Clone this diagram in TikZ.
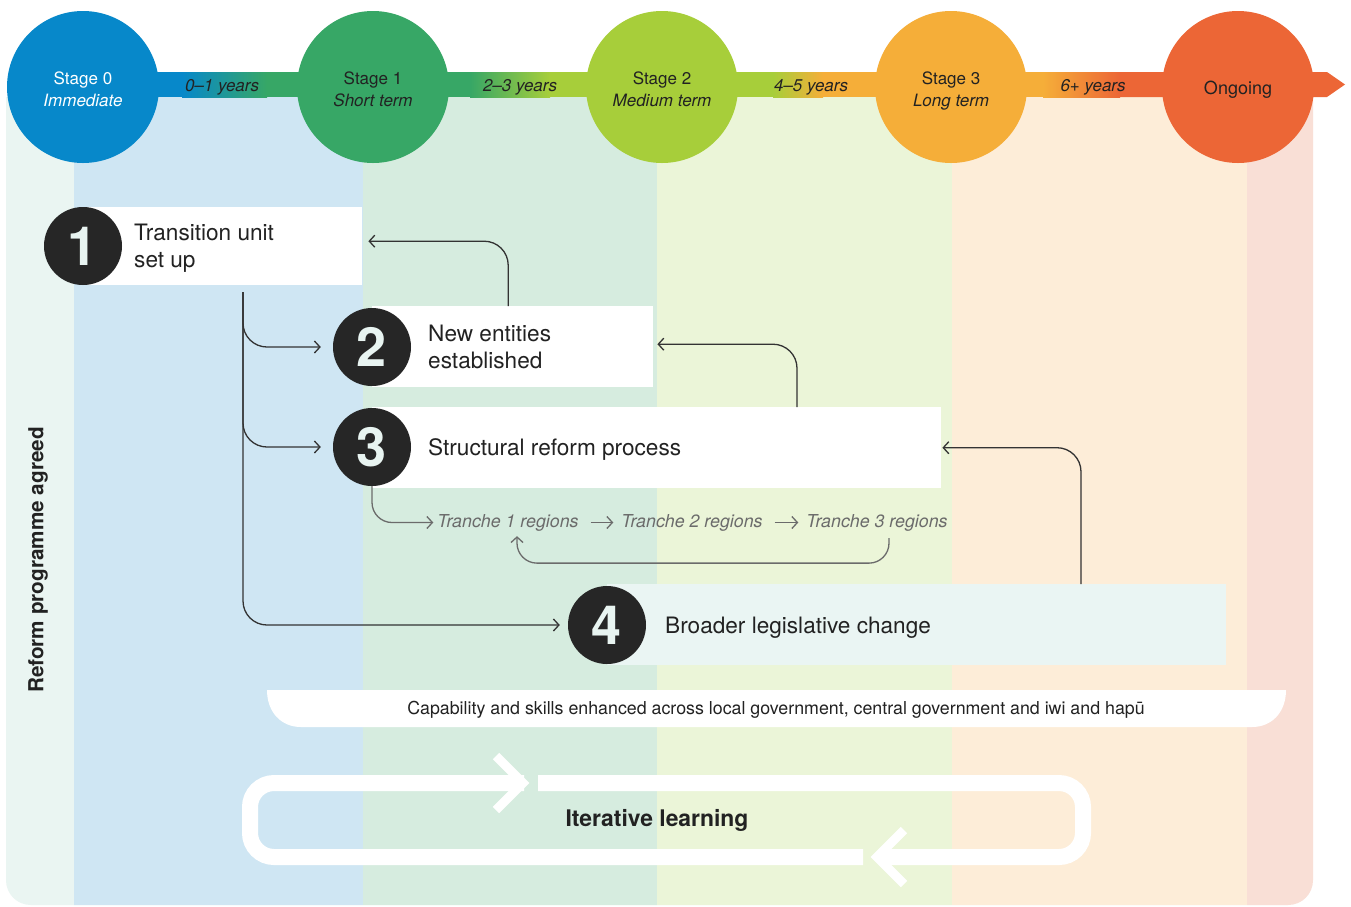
\documentclass[tikz,border=0pt]{standalone}
\usepackage{fontspec}
\setmainfont{TeX Gyre Heros}
\usetikzlibrary{arrows.meta}
\definecolor{colA}{HTML}{EAF5F2}
\definecolor{colB}{HTML}{CFE6F3}
\definecolor{colC}{HTML}{D6ECDF}
\definecolor{colD}{HTML}{EBF5D8}
\definecolor{colE}{HTML}{FDEDD8}
\definecolor{colF}{HTML}{F9DFD6}
\definecolor{stA}{HTML}{0788CA}
\definecolor{stB}{HTML}{37A766}
\definecolor{stC}{HTML}{A7CE3A}
\definecolor{stD}{HTML}{F5AE39}
\definecolor{stE}{HTML}{EC6636}
\definecolor{numdark}{HTML}{262626}
\definecolor{numtext}{HTML}{E8F4F1}
\definecolor{textdark}{HTML}{222222}
\definecolor{linedark}{HTML}{333333}
\definecolor{linegray}{HTML}{6B6B6B}
\definecolor{boxfour}{HTML}{EAF5F3}
\begin{document}
\begin{tikzpicture}[x=1pt,y=-1pt,
  conn/.style={draw=linedark, line width=1.3pt, rounded corners=24pt, -{Straight Barb[length=5.5pt,width=12pt]}},
  gconn/.style={draw=linegray, line width=1.3pt, rounded corners=20pt, -{Straight Barb[length=5.5pt,width=12pt]}},
  stagec/.style={circle, minimum size=152pt, inner sep=0pt, align=center, font=\fontsize{17}{22}\selectfont},
  stagetxt/.style={align=center, inner sep=0pt, yshift=-2.5pt, font=\fontsize{17}{22}\selectfont},
  numc/.style={circle, fill=numdark, minimum size=78pt, inner sep=0pt, text=numtext, font=\fontsize{54}{54}\selectfont\bfseries},
  boxr/.style={inner sep=0pt, anchor=north west},
  boxtext/.style={anchor=west, align=left, inner sep=0pt, yshift=-2.5pt, text=textdark, font=\fontsize{22.6}{27}\selectfont},
  yrs/.style={font=\fontsize{17}{20}\selectfont\itshape, text=textdark, yshift=-1pt},
  tr/.style={font=\fontsize{17.8}{20}\selectfont\itshape, text=linegray, inner sep=1pt, yshift=-1.5pt},
  band/.style={draw=white, line width=16pt, rounded corners=24pt},
  chev/.style={draw=white, line width=9pt, miter limit=10},
]
\useasboundingbox (0,0) rectangle (1351,906);
\fill[white] (0,0) rectangle (1351,906);
% background columns
\begin{scope}
\clip (6,97) -- (1313,97) -- (1313,880) .. controls (1313,894) and (1302,905) .. (1288,905) -- (31,905) .. controls (17,905) and (6,894) .. (6,880) -- cycle;
\fill[colA] (0,97) rectangle (74,906);
\fill[colB] (74,97) rectangle (363,906);
\fill[colC] (363,97) rectangle (657,906);
\fill[colD] (657,97) rectangle (952,906);
\fill[colE] (952,97) rectangle (1247,906);
\fill[colF] (1247,97) rectangle (1320,906);
\end{scope}
% timeline bar
\fill[stA] (83,72) rectangle (183,97);
\fill[stB] (266,72) rectangle (471,97);
\fill[stC] (549,72) rectangle (774,97);
\fill[stD] (822,72) rectangle (1044,97);
\fill[stE] (1119,72) -- (1327,72) -- (1345,84.5) -- (1327,97) -- (1119,97) -- cycle;
\shade[left color=stA, right color=stB] (182,72) rectangle (267,97);
\shade[left color=stB, right color=stC] (470,72) rectangle (550,97);
\shade[left color=stC, right color=stD] (773,72) rectangle (823,97);
\shade[left color=stD, right color=stE] (1043,72) rectangle (1120,97);
\node[yrs] (y0) at (222,86) {0--1 years};
\node[yrs] (y1) at (520,86) {2--3 years};
\node[yrs] (y2) at (811,86) {4--5 years};
\node[yrs] (y3) at (1093,86) {6+ years};
% stage circles
\node[stagec, fill=stA] (s0) at (83,87) {};
\node[stagec, fill=stB] (s1) at (373,87) {};
\node[stagec, fill=stC] (s2) at (662,87) {};
\node[stagec, fill=stD] (s3) at (951,87) {};
\node[stagec, fill=stE] (s4) at (1238,87) {};
\node[stagetxt, text=white] (l0) at (s0) {Stage 0\\\textit{Immediate}};
\node[stagetxt, text=textdark] (l1) at (s1) {Stage 1\\\textit{Short term}};
\node[stagetxt, text=textdark] (l2) at (s2) {Stage 2\\\textit{Medium term}};
\node[stagetxt, text=textdark] (l3) at ([yshift=-1.5pt]s3.center) {Stage 3\\\textit{Long term}};
\node[stagetxt, text=textdark, font=\fontsize{18}{22}\selectfont] (l4) at (s4) {Ongoing};
% boxes
\node[boxr, fill=white, minimum width=279pt, minimum height=78pt] (b1) at (83,207) {};
\node[boxr, fill=white, minimum width=281pt, minimum height=81pt] (b2) at (372,306) {};
\node[boxr, fill=white, minimum width=569pt, minimum height=81pt] (b3) at (372,407) {};
\node[boxr, fill=boxfour, minimum width=619pt, minimum height=81pt] (b4) at (607,584) {};
\node[numc] (n1) at (83,246) {1};
\node[numc] (n2) at (372,347) {2};
\node[numc] (n3) at (372,447) {3};
\node[numc] (n4) at (607,625) {4};
\node[boxtext] (t1) at (134,246) {Transition unit\\set up};
\node[boxtext] (t2) at (428,344) {New entities\\established};
\node[boxtext] (t3) at (428,447) {Structural reform process};
\node[boxtext] (t4) at (665,625) {Broader legislative change};
% connectors
\coordinate (trunk) at (243,292);
\coordinate (u3) at (797,407);
\coordinate (u4) at (1081,584);
\draw[conn, shorten >=12pt] (trunk) |- (n2.west);
\draw[conn, shorten >=12pt] (trunk) |- (n3.west);
\draw[conn, shorten >=8pt] (trunk) |- (n4.west);
\draw[conn, shorten >=6pt] ([xshift=-4.5pt]b2.north) |- ([yshift=5pt]b1.east);
\draw[conn, shorten >=4pt] (b3.north -| u3) |- ([yshift=2.5pt]b2.east);
\draw[conn, shorten >=1pt] (b4.north -| u4) |- (b3.east);
% tranches
\node[tr] (tr1) at (508,521) {Tranche 1 regions};
\node[tr] (tr2) at (692,521) {Tranche 2 regions};
\node[tr] (tr3) at (877,521) {Tranche 3 regions};
\draw[gconn, shorten >=3pt] (n3.south) |- (tr1.west);
\draw[gconn, shorten <=11pt, shorten >=7pt] (tr1.east) -- (tr2.west);
\draw[gconn, shorten <=11pt, shorten >=7pt] (tr2.east) -- (tr3.west);
\draw[gconn, shorten <=6pt, shorten >=4pt] ([xshift=12pt]tr3.south) -- ++(0,31) -| ([xshift=9pt]tr1.south);
% capability banner
\fill[white] (267,690) -- (1286,690) .. controls (1286,712) and (1272,727) .. (1252,727) -- (301,727) .. controls (281,727) and (267,712) .. (267,690) -- cycle;
\node[font=\fontsize{17.8}{20}\selectfont, text=textdark, yshift=-2pt] (cap) at (776,708) {Capability and skills enhanced across local government, central government and iwi and hapū};
% reform label
\node[rotate=90, font=\fontsize{20.7}{24}\selectfont\bfseries, text=textdark] (rpa) at (38,560) {Reform programme agreed};
% iterative loop
\draw[band] (524,783) -- (250,783) -- (250,857) -- (863,857);
\draw[band] (538,783) -- (1083,783) -- (1083,857) -- (880,857);
\draw[chev] (496,756) -- (523,783) -- (496,810);
\draw[chev] (904,830) -- (877,857) -- (904,884);
\node[font=\fontsize{22.9}{26}\selectfont\bfseries, text=textdark, yshift=-2.5pt] (il) at (657,818) {Iterative learning};
\end{tikzpicture}
\end{document}
